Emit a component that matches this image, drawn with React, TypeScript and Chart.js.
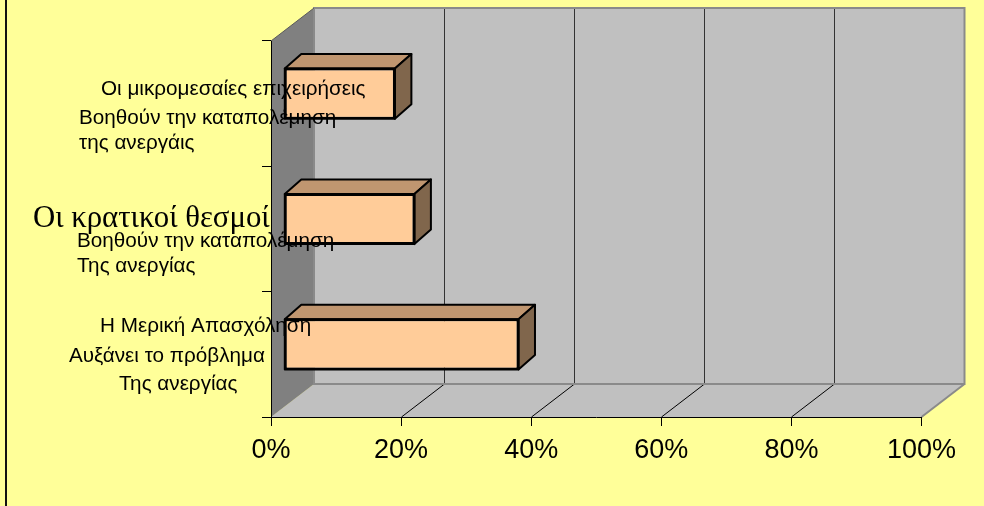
import React, { useEffect, useRef } from 'react';
import { Chart, registerables } from 'chart.js';

Chart.register(...registerables);

// Category texts, one entry per line of each label (top to bottom)
const categoryLines: string[][] = [
  ['Οι μικρομεσαίες επιχειρήσεις', 'Βοηθούν την καταπολέμηση', 'της ανεργάις'],
  ['Οι κρατικοί θεσμοί', 'Βοηθούν την καταπολέμηση', 'Της ανεργίας'],
  ['Η Μερική Απασχόληση', 'Αυξάνει το πρόβλημα', 'Της ανεργίας'],
];

// Share of answers per statement, in percent
const shares: number[] = [17, 20, 36];

// Value axis ticks
const percentTicks: number[] = [0, 20, 40, 60, 80, 100];

const SANS = '"Liberation Sans", Arial, sans-serif';
const SERIF = '"Liberation Serif", "Times New Roman", serif';

// Oblique projection of the 3D box
const WALL_DEPTH = { dx: 43, dy: -33 };
const BAR_FRONT = { dx: 13.3, dy: -10 };
const BAR_DEPTH = { dx: 16.5, dy: -14.5 };

const COLORS = {
  background: '#FFFF99',
  sideWall: '#808080',
  backWall: '#C0C0C0',
  floor: '#C0C0C0',
  wallEdge: '#8A8A8A',
  grid: '#333333',
  barFront: '#FFCC99',
  barTop: '#C09670',
  barSide: '#80664C',
};

// Label line placement: [left x, baseline offset from category centre, font]
type LineStyle = [number, number, string];
const small = `20.7px ${SANS}`;
const labelLayout: LineStyle[][] = [
  [[101, -8.7, small], [79, 20.3, small], [79, 45.3, small]],
  [[33, -2.3, `30.8px ${SERIF}`], [77, 17.7, small], [77, 42.7, small]],
  [[100, -22.3, small], [69, 7.4, small], [119, 35.7, small]],
];

const backdropPlugin = {
  id: 'backdrop3d',
  beforeDraw(chart: any) {
    const { ctx, chartArea, scales } = chart;
    const xs = scales.x;
    const { dx, dy } = WALL_DEPTH;
    const x0 = xs.getPixelForValue(percentTicks[0]);
    const x1 = xs.getPixelForValue(percentTicks[percentTicks.length - 1]);
    const top = chartArea.top;
    const bottom = chartArea.bottom;

    ctx.save();
    ctx.fillStyle = COLORS.background;
    ctx.fillRect(0, 0, chart.width, chart.height);
    ctx.fillStyle = '#111';
    ctx.fillRect(5, 0, 2, chart.height);

    // back wall
    ctx.fillStyle = COLORS.backWall;
    ctx.fillRect(x0 + dx, top + dy, x1 - x0, bottom - top);

    // floor
    ctx.beginPath();
    ctx.moveTo(x0, bottom);
    ctx.lineTo(x1, bottom);
    ctx.lineTo(x1 + dx, bottom + dy);
    ctx.lineTo(x0 + dx, bottom + dy);
    ctx.closePath();
    ctx.fillStyle = COLORS.floor;
    ctx.fill();

    // side wall
    ctx.beginPath();
    ctx.moveTo(x0, top);
    ctx.lineTo(x0 + dx, top + dy);
    ctx.lineTo(x0 + dx, bottom + dy);
    ctx.lineTo(x0, bottom);
    ctx.closePath();
    ctx.fillStyle = COLORS.sideWall;
    ctx.fill();

    // gridlines on back wall and floor
    ctx.lineWidth = 1;
    percentTicks.slice(1, -1).forEach((v) => {
      const px = Math.round(xs.getPixelForValue(v)) + 0.5;
      ctx.strokeStyle = COLORS.grid;
      ctx.beginPath();
      ctx.moveTo(px + dx, top + dy);
      ctx.lineTo(px + dx, bottom + dy);
      ctx.stroke();
      ctx.strokeStyle = '#000';
      ctx.beginPath();
      ctx.moveTo(px, bottom);
      ctx.lineTo(px + dx, bottom + dy);
      ctx.stroke();
    });

    // wall edges
    ctx.strokeStyle = COLORS.wallEdge;
    ctx.lineWidth = 2;
    ctx.strokeRect(x0 + dx, top + dy, x1 - x0, bottom - top);
    ctx.beginPath();
    ctx.moveTo(x1, bottom);
    ctx.lineTo(x1 + dx, bottom + dy);
    ctx.stroke();
    ctx.strokeStyle = '#5A5A5A';
    ctx.lineWidth = 1;
    ctx.beginPath();
    ctx.moveTo(x0, top);
    ctx.lineTo(x0 + dx, top + dy);
    ctx.stroke();
    ctx.restore();
  },
};

const boxPlugin = {
  id: 'box3d',
  beforeDatasetDraw(chart: any) {
    chart.ctx.save();
    chart.ctx.translate(BAR_FRONT.dx, BAR_FRONT.dy);
  },
  afterDatasetDraw(chart: any, args: any) {
    const ctx = chart.ctx;
    const { dx, dy } = BAR_DEPTH;
    ctx.lineWidth = 2;
    ctx.lineJoin = 'round';
    ctx.strokeStyle = '#000';
    args.meta.data.forEach((el: any) => {
      const { x, y, base, height } = el.getProps(['x', 'y', 'base', 'height'], true);
      const t = y - height / 2;
      const b = y + height / 2;
      ctx.beginPath();
      ctx.moveTo(base, t);
      ctx.lineTo(base + dx, t + dy);
      ctx.lineTo(x + dx, t + dy);
      ctx.lineTo(x, t);
      ctx.closePath();
      ctx.fillStyle = COLORS.barTop;
      ctx.fill();
      ctx.stroke();

      ctx.beginPath();
      ctx.moveTo(x, t);
      ctx.lineTo(x + dx, t + dy);
      ctx.lineTo(x + dx, b + dy);
      ctx.lineTo(x, b);
      ctx.closePath();
      ctx.fillStyle = COLORS.barSide;
      ctx.fill();
      ctx.stroke();

      ctx.strokeRect(base, t, x - base, height);
    });
    ctx.restore();
  },
};

const categoryLabelPlugin = {
  id: 'categoryLabels',
  afterDraw(chart: any) {
    const { ctx, scales } = chart;
    const ys = scales.y;
    ctx.save();
    ctx.fillStyle = '#000';
    ctx.textAlign = 'left';
    ctx.textBaseline = 'alphabetic';
    categoryLines.forEach((lines, i) => {
      const cy = ys.getPixelForValue(i);
      lines.forEach((text, j) => {
        const [lx, off, font] = labelLayout[i][j];
        ctx.font = font;
        ctx.fillText(text, lx, cy + off);
      });
    });
    ctx.restore();
  },
};

export default function App() {
  const canvasRef = useRef<HTMLCanvasElement>(null);

  useEffect(() => {
    document.body.style.margin = '0';
    const canvas = canvasRef.current;
    if (!canvas) return;
    const chart = new Chart(canvas, {
      type: 'bar',
      data: {
        labels: categoryLines.map((l) => l.join(' ')),
        datasets: [
          {
            data: shares,
            backgroundColor: COLORS.barFront,
            borderColor: '#000',
            borderWidth: 2,
            borderSkipped: false,
            categoryPercentage: 0.5,
            barPercentage: 0.8,
            clip: false as any,
          },
        ],
      },
      options: {
        indexAxis: 'y',
        animation: false,
        responsive: false,
        maintainAspectRatio: false,
        devicePixelRatio: 1,
        events: [],
        layout: { padding: { left: 0, top: 41, right: 62.5, bottom: 0 } },
        plugins: {
          legend: { display: false },
          tooltip: { enabled: false },
          title: { display: false },
        },
        scales: {
          x: {
            type: 'linear',
            min: 0,
            max: 100,
            afterBuildTicks: (s: any) => {
              s.ticks = percentTicks.map((v) => ({ value: v }));
            },
            afterFit: (s: any) => {
              s.height = 89;
            },
            ticks: {
              callback: (v: any) => `${v}%`,
              color: '#000',
              padding: 8,
              maxRotation: 0,
              autoSkip: false,
              font: { family: SANS, size: 27 },
            },
            grid: { drawOnChartArea: false, color: '#000', tickLength: 9 },
            border: { display: true, color: '#000', width: 1 },
          },
          y: {
            type: 'category',
            afterFit: (s: any) => {
              s.width = 271;
            },
            ticks: { display: false },
            grid: { drawOnChartArea: false, color: '#000', tickLength: 9, offset: true },
            border: { display: true, color: '#000', width: 1 },
          },
        },
      },
      plugins: [backdropPlugin, boxPlugin, categoryLabelPlugin],
    } as any);
    return () => chart.destroy();
  }, []);

  return (
    <div style={{ width: 984, height: 506 }}>
      <canvas ref={canvasRef} width={984} height={506} style={{ display: 'block' }} />
    </div>
  );
}
